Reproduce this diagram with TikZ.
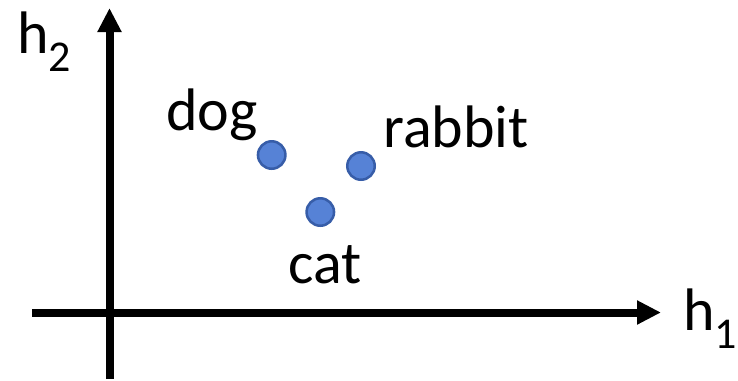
\documentclass[tikz,border=0pt]{standalone}
\usepackage{fontspec}
\setmainfont{Carlito}
\usepackage{tikz}
\usetikzlibrary{arrows.meta,positioning}

\definecolor{dotfill}{RGB}{86,130,214}
\definecolor{dotline}{RGB}{55,93,168}

% lowered subscript for the axis names
\newcommand{\axsub}[1]{\raisebox{-0.3em}{\fontsize{33}{33}\selectfont #1}}

\begin{document}
\begin{tikzpicture}[x=0.75pt,y=-0.75pt,
	axis/.style={line width=6pt,-{Triangle[width=17pt,length=18pt]}},
	dot/.style={circle,draw=dotline,fill=dotfill,line width=1.9pt,minimum size=20.6pt,inner sep=0pt},
	word/.style={anchor=base west,inner sep=0pt,font=\fontsize{45}{54}\selectfont}]

	\useasboundingbox (0,0) rectangle (738,380);

	% axes
	\coordinate (o2) at (109.5,379);
	\coordinate (top) at (109.5,8);
	\coordinate (o1) at (32,312.5);
	\coordinate (right) at (661,312.5);
	\draw[axis] (o2) -- (top);
	\draw[axis] (o1) -- (right);

	\node[word] (h2) at (17,53) {h\axsub{2}};
	\node[word] (h1) at (683,330) {h\axsub{1}};

	% the three words
	\node[dot] (dog) at (271.7,155) {};
	\node[dot] (rabbit) at (361,166) {};
	\node[dot] (cat) at (320.3,212) {};

	\node[word] (dogl) at (166,130) {dog};
	\node[word] (rabbitl) at (383,147) {rabbit};
	\node[word] (catl) at (288,283) {cat};

\end{tikzpicture}
\end{document}
